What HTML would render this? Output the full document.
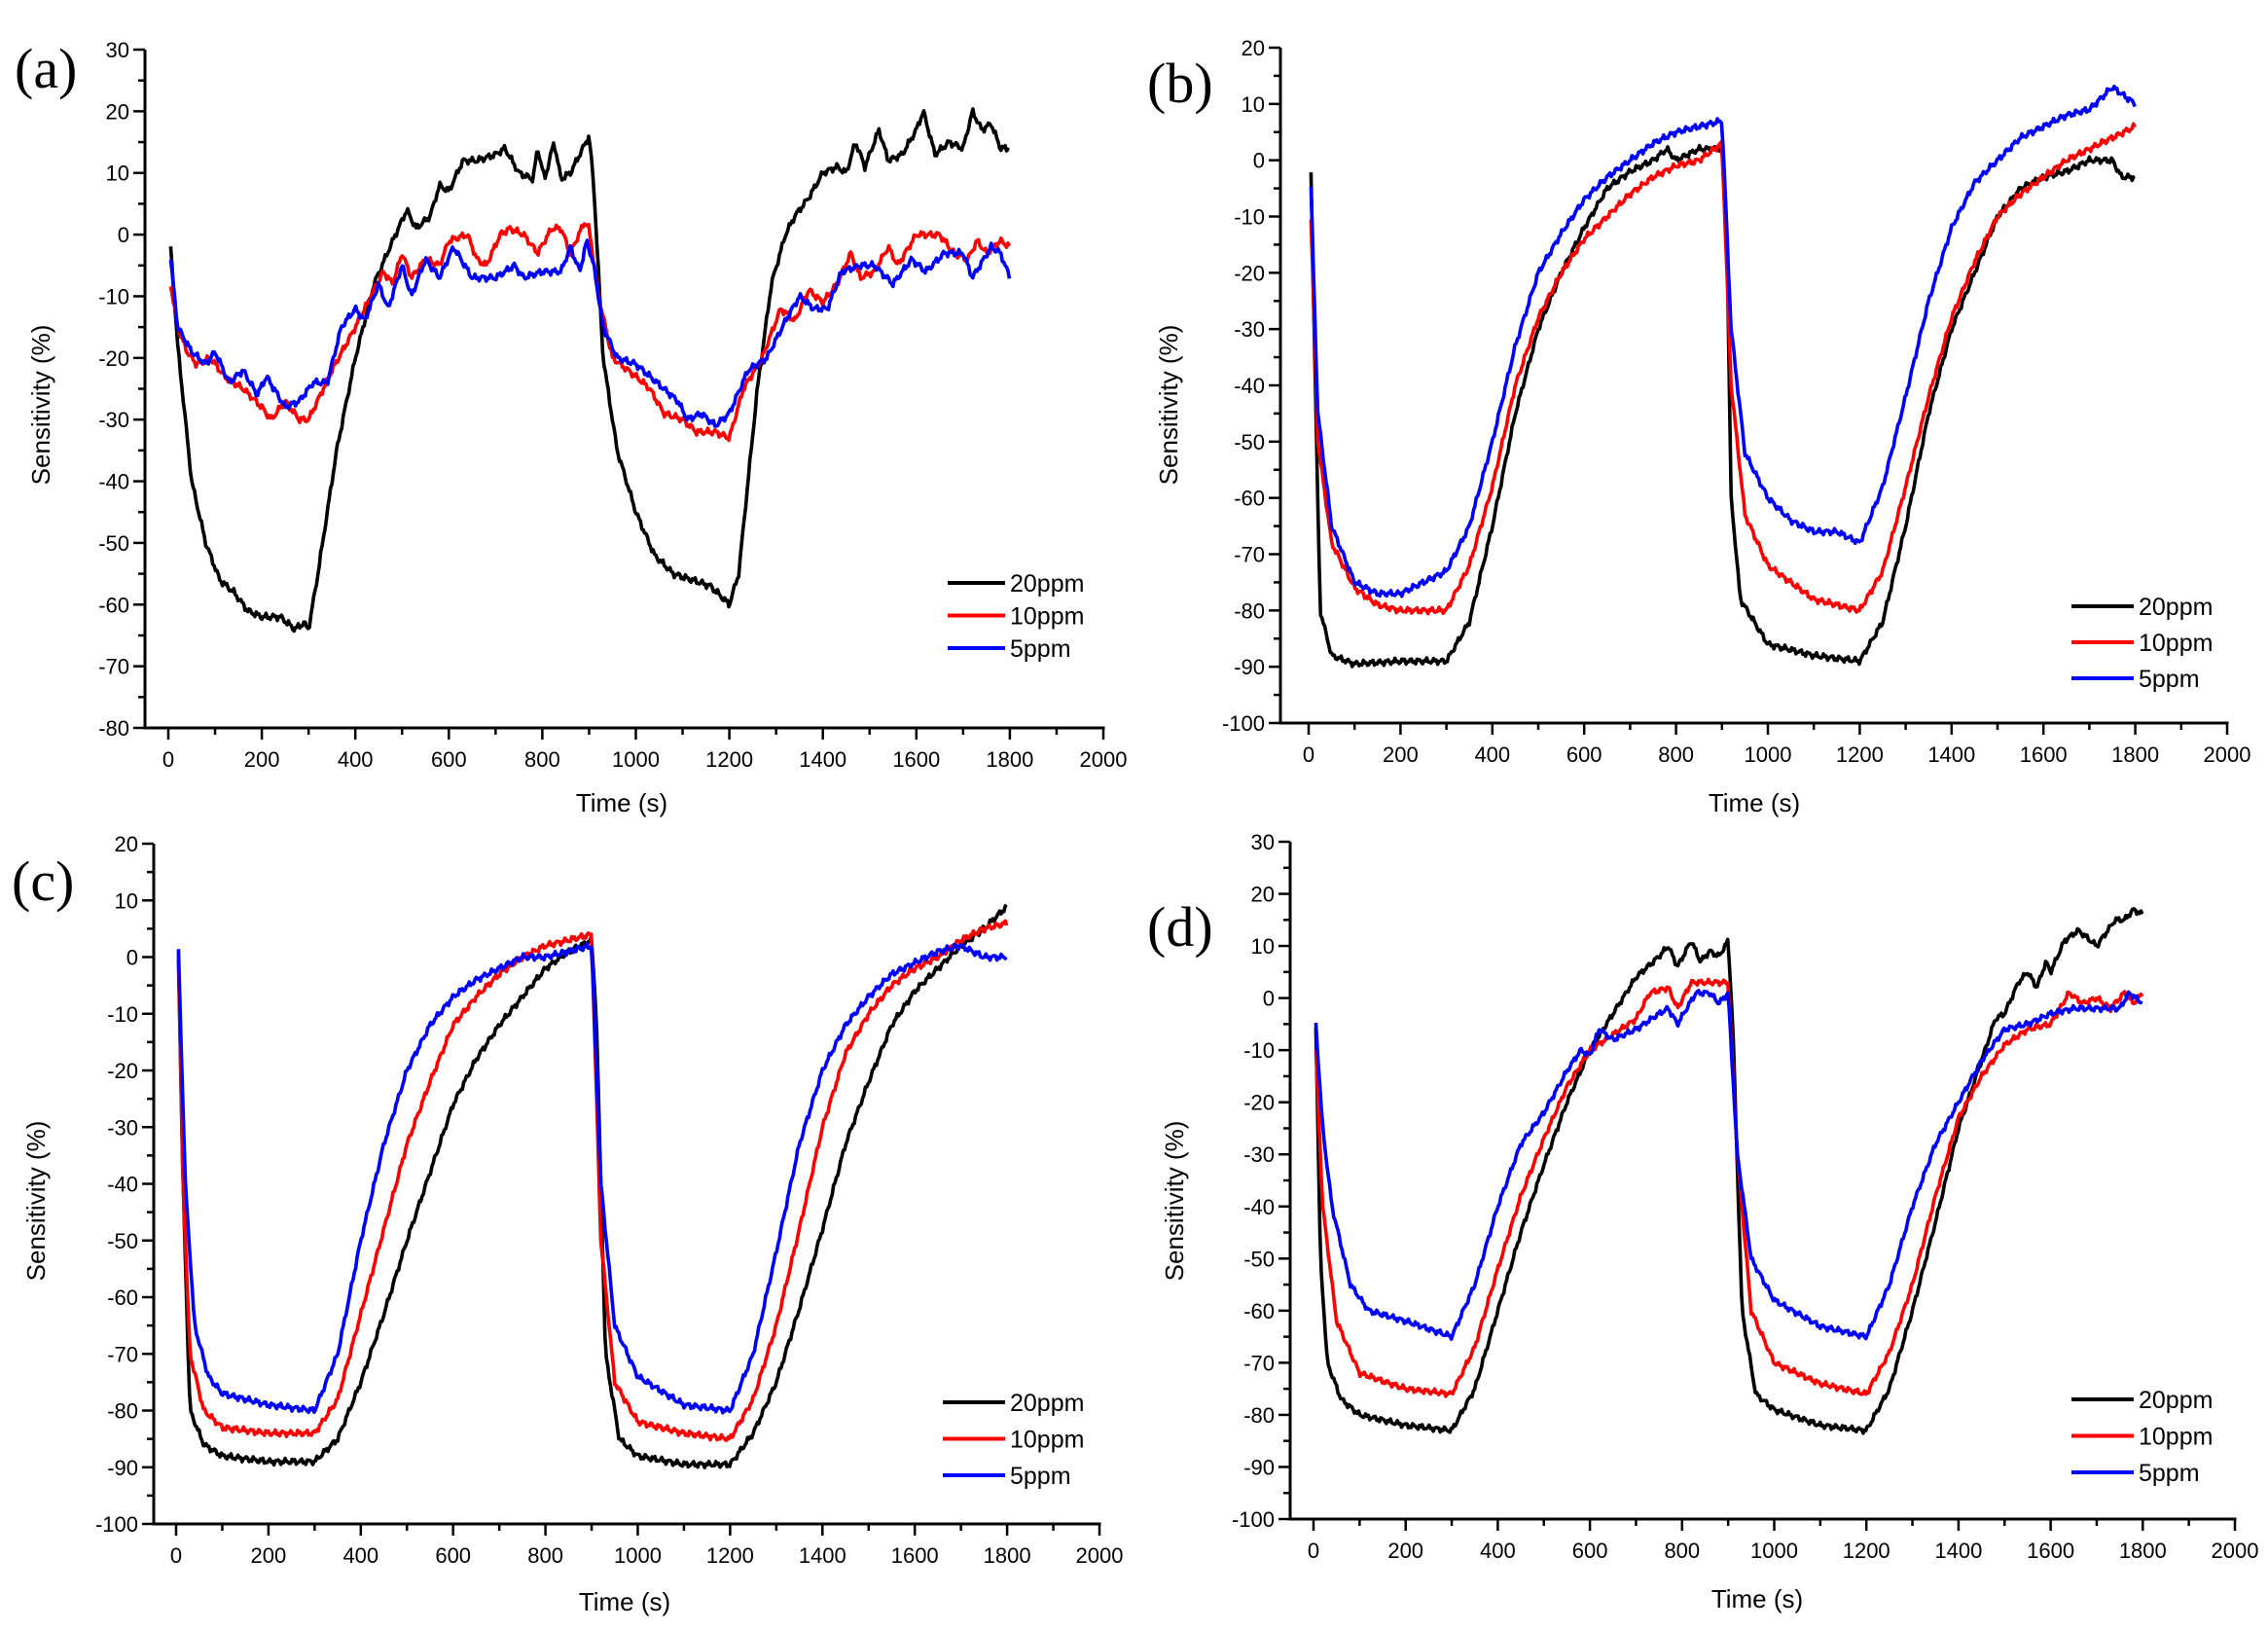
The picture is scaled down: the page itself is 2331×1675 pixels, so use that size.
<!DOCTYPE html>
<html><head><meta charset="utf-8">
<style>
html,body{margin:0;padding:0;background:#fff;}
svg{display:block;}
text{font-family:"Liberation Sans",Arial,sans-serif;fill:#000;}
</style></head>
<body>
<svg id="s" width="2331" height="1675" viewBox="0 0 2331 1675" xmlns="http://www.w3.org/2000/svg"></svg>
<script>
const S=document.getElementById('s');
let out='';
const P=[
 {lab:'(a)',lx:15,ly:90,ax:149,x0:173,x2:1134,ymin:-80,ymax:30,yTop:51,yBot:748,
  xt:[639,825],yt:[42,416],leg:[974,1033,599,33.5],
  d:[
   [[5,-2],[20,-18],[50,-40],[80,-50],[110,-56],[140,-58],[170,-61],[200,-62],[240,-62],[270,-64],[290,-63],[300,-64],[320,-55],[360,-35],[400,-20],[440,-8],[480,-1],[510,4],[530,1],[560,3],[580,8],[600,7],[630,12],[660,12],[700,13],[720,14],[750,10],[780,9],[790,14],[805,9],[825,15],[840,9],[860,10],[880,13],[900,16],[910,8],[930,-20],[960,-35],[1000,-45],[1040,-52],[1080,-55],[1120,-56],[1160,-57],[1200,-60],[1220,-55],[1260,-25],[1290,-8],[1320,0],[1340,3],[1370,6],[1400,10],[1430,11],[1450,10],[1470,15],[1490,11],[1520,17],[1540,12],[1570,13],[1600,17],[1615,20],[1640,13],[1670,15],[1700,14],[1720,20],[1740,17],[1760,18],[1780,14],[1800,14]],
   [[5,-8],[20,-15],[40,-19],[60,-21],[90,-20],[120,-23],[160,-25],[200,-28],[220,-30],[250,-27],[280,-30],[300,-30],[350,-22],[400,-15],[440,-9],[460,-6],[480,-8],[500,-3],[520,-7],[550,-4],[580,-5],[600,-1],[640,0],[660,-4],[680,-5],[710,0],[730,1],[760,0],[790,-3],[820,1],[840,1],[860,-3],[890,2],[900,1],[920,-10],[950,-20],[1000,-23],[1030,-25],[1060,-29],[1100,-30],[1130,-32],[1170,-32],[1200,-33],[1230,-25],[1270,-20],[1310,-12],[1340,-14],[1370,-9],[1400,-11],[1430,-8],[1460,-3],[1480,-7],[1510,-6],[1540,-2],[1560,-5],[1600,0],[1650,0],[1680,-3],[1710,-4],[1730,-1],[1750,-3],[1780,-1],[1800,-2]],
   [[5,-4],[20,-15],[50,-19],[80,-21],[100,-19],[130,-24],[160,-22],[190,-26],[210,-23],[250,-28],[280,-27],[310,-24],[340,-24],[370,-15],[400,-12],[420,-14],[450,-8],[470,-12],[500,-5],[520,-10],[550,-4],[580,-7],[610,-2],[650,-7],[700,-7],[740,-5],[760,-7],[800,-6],[840,-6],[860,-2],[880,-6],[895,-1],[910,-5],[930,-15],[960,-20],[1000,-21],[1030,-23],[1060,-25],[1090,-27],[1110,-30],[1140,-29],[1170,-31],[1200,-29],[1240,-22],[1280,-20],[1320,-14],[1350,-10],[1380,-12],[1410,-12],[1440,-6],[1480,-5],[1510,-5],[1550,-8],[1590,-4],[1620,-6],[1660,-3],[1700,-3],[1720,-7],[1760,-2],[1780,-3],[1800,-7]]
  ]},
 {lab:'(b)',lx:1179,ly:105,ax:1316,x0:1345,x2:2289,ymin:-100,ymax:20,yTop:49,yBot:743,
  xt:[1803,825],yt:[1201,416],leg:[2129,2193,623,37],
  d:[
   [[5,-2],[12,-30],[25,-80],[50,-88],[100,-89.5],[200,-89],[300,-89],[350,-82],[400,-65],[450,-45],[500,-30],[550,-20],[600,-12],[650,-5],[700,-2],[750,0],[780,2],[800,0],[850,2],[900,2],[910,-10],[920,-60],[940,-78],[1000,-86],[1100,-88],[1200,-89],[1250,-82],[1300,-65],[1350,-45],[1400,-30],[1450,-20],[1500,-10],[1550,-5],[1600,-3],[1650,-2],[1700,0],[1750,0],[1770,-3],[1800,-3]],
   [[5,-10],[20,-50],[50,-68],[100,-76],[150,-79],[200,-80],[300,-80],[350,-72],[400,-58],[450,-40],[500,-28],[550,-20],[600,-14],[650,-10],[700,-6],[750,-3],[800,-1],[850,0],[900,3],[920,-40],[950,-63],[1000,-72],[1100,-78],[1200,-80],[1250,-73],[1300,-58],[1350,-42],[1400,-28],[1450,-18],[1500,-10],[1550,-6],[1600,-3],[1650,0],[1700,2],[1750,4],[1800,6]],
   [[5,-5],[20,-45],[50,-65],[100,-75],[150,-77],[200,-77],[250,-75],[300,-73],[350,-65],[400,-50],[450,-33],[500,-20],[550,-13],[600,-7],[650,-3],[700,0],[750,3],[800,5],[850,6],[900,7],[920,-30],[950,-52],[1000,-60],[1050,-64],[1100,-66],[1150,-66],[1200,-68],[1250,-58],[1300,-42],[1350,-25],[1400,-12],[1450,-4],[1500,0],[1550,4],[1600,6],[1650,8],[1700,9],[1750,13],[1800,10]]
  ]},
 {lab:'(c)',lx:12,ly:925,ax:158,x0:181,x2:1130,ymin:-100,ymax:20,yTop:867,yBot:1566,
  xt:[642,1646],yt:[37,1234],leg:[969,1033,1441,37.5],
  d:[
   [[5,0],[15,-40],[30,-80],[60,-86],[100,-88],[200,-89],[300,-89],[350,-85],[400,-75],[450,-63],[500,-50],[550,-38],[600,-26],[650,-18],[700,-12],[750,-7],[800,-2],[850,1],[900,3],[910,-10],[930,-70],[960,-85],[1000,-88],[1100,-89.5],[1200,-89.5],[1250,-84],[1300,-75],[1350,-62],[1400,-48],[1450,-33],[1500,-22],[1550,-12],[1600,-6],[1650,-2],[1700,2],[1750,5],[1800,9]],
   [[5,1],[15,-40],[30,-70],[60,-80],[100,-83],[200,-84],[300,-84],[350,-78],[400,-63],[450,-48],[500,-33],[550,-22],[600,-12],[650,-7],[700,-3],[750,0],[800,2],[850,3],[900,4],[920,-50],[950,-75],[1000,-82],[1100,-84],[1200,-85],[1250,-78],[1300,-65],[1350,-48],[1400,-30],[1450,-17],[1500,-10],[1550,-5],[1600,-2],[1650,0],[1700,3],[1750,5],[1800,6]],
   [[5,1],[20,-40],[40,-65],[70,-74],[100,-77],[200,-79],[300,-80],[350,-70],[400,-50],[450,-33],[500,-20],[550,-12],[600,-7],[650,-4],[700,-2],[750,0],[800,0],[850,1],[900,2],[920,-40],[950,-65],[1000,-74],[1100,-79],[1200,-80],[1250,-70],[1300,-52],[1350,-33],[1400,-20],[1450,-12],[1500,-7],[1550,-3],[1600,-1],[1650,1],[1700,2],[1750,0],[1800,0]]
  ]},
 {lab:'(d)',lx:1179,ly:972,ax:1326,x0:1350,x2:2297,ymin:-100,ymax:30,yTop:865,yBot:1561,
  xt:[1806,1643],yt:[1207,1234],leg:[2129,2193,1438,37.5],
  d:[
   [[5,-5],[15,-50],[30,-70],[60,-77],[100,-80],[200,-82],[300,-83],[350,-75],[400,-60],[450,-45],[500,-32],[550,-20],[600,-10],[650,-3],[700,4],[750,8],[770,10],[790,6],[820,11],[840,7],[860,9],[880,8],[900,11],[910,-5],[930,-60],[960,-76],[1000,-79],[1100,-82],[1200,-83],[1250,-75],[1300,-60],[1350,-43],[1400,-25],[1450,-12],[1480,-4],[1500,-3],[1530,3],[1550,5],[1570,2],[1590,7],[1600,5],[1630,11],[1660,13],[1700,10],[1740,15],[1760,15],[1780,17],[1800,16]],
   [[5,-10],[20,-40],[50,-62],[100,-72],[200,-75],[300,-76],[350,-67],[400,-52],[450,-38],[500,-27],[550,-17],[600,-10],[650,-7],[700,-4],[730,1],[770,2],[790,-2],[820,3],[850,3],[900,3],[920,-30],[950,-60],[1000,-70],[1100,-74],[1200,-76],[1250,-68],[1300,-55],[1350,-38],[1400,-23],[1450,-15],[1500,-9],[1550,-6],[1600,-5],[1640,1],[1670,-1],[1700,0],[1730,-2],[1760,1],[1780,-1],[1800,1]],
   [[5,-5],[20,-25],[40,-40],[80,-55],[120,-60],[200,-62],[300,-65],[350,-55],[400,-40],[450,-28],[500,-22],[550,-14],[580,-10],[600,-11],[620,-6],[650,-8],[700,-6],[750,-3],[770,-2],[790,-5],[830,1],[860,1],[880,-1],[900,1],[920,-30],[950,-50],[1000,-58],[1100,-63],[1200,-65],[1250,-55],[1300,-40],[1350,-28],[1400,-20],[1450,-12],[1500,-6],[1550,-5],[1600,-3],[1650,-2],[1700,-2],[1750,-2],[1770,1],[1800,-1]]
  ]}
];
const cols=['#000','#f00','#00f'];
const names=['20ppm','10ppm','5ppm'];
function interp(pts,t){
 for(let i=0;i<pts.length-1;i++){if(t>=pts[i][0]&&t<=pts[i+1][0]){const a=pts[i],b=pts[i+1];return a[1]+(b[1]-a[1])*(t-a[0])/(b[0]-a[0]);}}
 return pts[pts.length-1][1];
}
P.forEach((p,pi)=>{
 const X=t=>p.x0+(p.x2-p.x0)*t/2000;
 const Y=v=>p.yBot-(p.yBot-p.yTop)*(v-p.ymin)/(p.ymax-p.ymin);
 // axes
 out+=`<line x1="${p.ax}" y1="${p.yTop}" x2="${p.ax}" y2="${p.yBot}" stroke="#000" stroke-width="3"/>`;
 out+=`<line x1="${p.ax-1.5}" y1="${p.yBot}" x2="${X(2000)+1.5}" y2="${p.yBot}" stroke="#000" stroke-width="3"/>`;
 for(let t=0;t<=2000;t+=100){const big=t%200==0;out+=`<line x1="${X(t)}" y1="${p.yBot}" x2="${X(t)}" y2="${p.yBot+(big?12:7)}" stroke="#000" stroke-width="2.5"/>`;
  if(big)out+=`<text x="${X(t)}" y="${p.yBot+40}" font-size="22" text-anchor="middle">${t}</text>`;}
 for(let v=p.ymin;v<=p.ymax;v+=5){const big=v%10==0;const y=Y(v);out+=`<line x1="${p.ax}" y1="${y}" x2="${p.ax-(big?12:7)}" y2="${y}" stroke="#000" stroke-width="2.5"/>`;
  if(big)out+=`<text x="${p.ax-16}" y="${y+8}" font-size="22" text-anchor="end">${v}</text>`;}
 out+=`<text x="${p.xt[0]}" y="${p.xt[1]+9}" font-size="26" text-anchor="middle">Time (s)</text>`;
 out+=`<text transform="translate(${p.yt[0]+9},${p.yt[1]}) rotate(-90)" font-size="26" text-anchor="middle">Sensitivity (%)</text>`;
 out+=`<text x="${p.lx}" y="${p.ly}" font-size="58" style="font-family:'Liberation Serif',serif">${p.lab}</text>`;
 p.d.forEach((pts,si)=>{
  let d='';
  for(let t=pts[0][0];t<=1800;t+=3){let v=interp(pts,t);
   v+=0.35*Math.sin(t*0.37+si*2+pi)+0.25*Math.sin(t*0.91+si);
   d+=(d?'L':'M')+X(t).toFixed(1)+','+Y(v).toFixed(1);}
  out+=`<path d="${d}" fill="none" stroke="${cols[si]}" stroke-width="3.6" stroke-linejoin="round"/>`;
 });
 for(let i=0;i<3;i++){const y=p.leg[2]+i*p.leg[3];
  out+=`<line x1="${p.leg[0]}" y1="${y}" x2="${p.leg[1]}" y2="${y}" stroke="${cols[i]}" stroke-width="4"/>`;
  out+=`<text x="${p.leg[1]+5}" y="${y+9}" font-size="25">${names[i]}</text>`;}
});
S.innerHTML=out;
</script>
</body></html>
